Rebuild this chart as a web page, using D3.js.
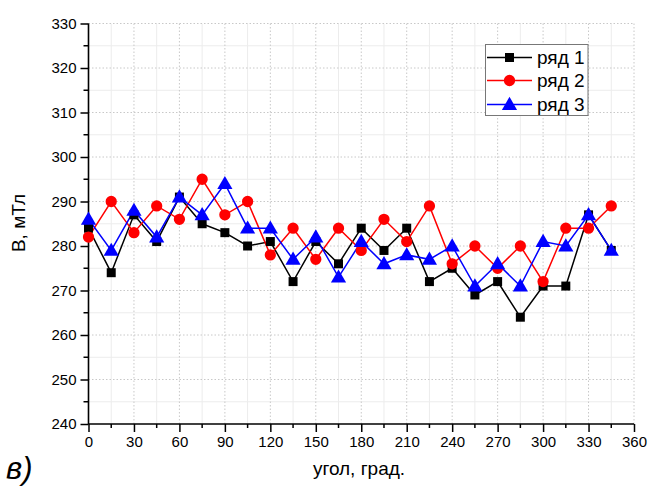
<!DOCTYPE html>
<html><head><meta charset="utf-8">
<script src="https://cdn.jsdelivr.net/npm/d3@7"></script>
<style>body{margin:0;background:#fff}svg{display:block}</style>
</head><body>
<svg id="c" width="649" height="488"></svg>
<script>
const angles = [0,15,30,45,60,75,90,105,120,135,150,165,180,195,210,225,240,255,270,285,300,315,330,345];
const series1 = [284,274,287,281,291,285,283,280,281,272,281,276,284,279,284,272,275,269,272,264,271,271,287,279];
const series2 = [282,290,283,289,286,295,287,290,278,284,277,284,279,286,281,289,276,280,275,280,272,284,284,289];
const series3 = [286,279,288,282,291,287,294,284,284,277,282,273,281,276,278,277,280,271,276,271,281,280,287,279];
const seriesNames = ["ряд 1","ряд 2","ряд 3"];
const seriesColors = ["#000000","#ff0000","#0000ff"];
const seriesSymbols = [d3.symbolSquare, d3.symbolCircle, d3.symbolTriangle];
const xTicks = d3.range(0, 361, 30);
const yTicks = d3.range(240, 331, 10);

const svg = d3.select("#c");
const font = "'Liberation Sans', Arial, sans-serif";
const x = d3.scaleLinear().domain([0,360]).range([88.5,634]);
const y = d3.scaleLinear().domain([240,330]).range([424,23.5]);

// minor grid
const g = svg.append("g");
g.selectAll(".mx").data(d3.range(15,360,30)).enter().append("line")
  .attr("x1",d=>x(d)).attr("x2",d=>x(d)).attr("y1",y(240)).attr("y2",y(330))
  .attr("stroke","#ececec").attr("stroke-width",1);
g.selectAll(".my").data(d3.range(245,330,10)).enter().append("line")
  .attr("y1",d=>y(d)).attr("y2",d=>y(d)).attr("x1",x(0)).attr("x2",x(360))
  .attr("stroke","#ececec").attr("stroke-width",1);
// major grid
g.selectAll(".Mx").data(xTicks.slice(1)).enter().append("line")
  .attr("x1",d=>x(d)).attr("x2",d=>x(d)).attr("y1",y(240)).attr("y2",y(330))
  .attr("stroke","#c8c8c8").attr("stroke-width",1).attr("stroke-dasharray","1.5,2");
g.selectAll(".My").data(yTicks.slice(1)).enter().append("line")
  .attr("y1",d=>y(d)).attr("y2",d=>y(d)).attr("x1",x(0)).attr("x2",x(360))
  .attr("stroke","#c8c8c8").attr("stroke-width",1).attr("stroke-dasharray","1.5,2");

// axes
const xAxis = d3.axisBottom(x).tickValues(xTicks).tickSize(8).tickPadding(4).tickFormat(d3.format("d"));
const yAxis = d3.axisLeft(y).tickValues(yTicks).tickSize(8).tickPadding(4).tickFormat(d3.format("d"));
const xa = svg.append("g").attr("transform",`translate(0,${y(240)})`).call(xAxis);
const ya = svg.append("g").attr("transform",`translate(${x(0)},0)`).call(yAxis);
[xa,ya].forEach(a=>{
  a.select(".domain").attr("stroke","#000").attr("stroke-width",1.6);
  a.selectAll(".tick line").attr("stroke","#000").attr("stroke-width",1.5);
  a.selectAll("text").attr("font-family",font).attr("font-size",15).attr("fill","#000");
});
xa.select(".domain").attr("d",`M${x(0)},0H${x(360)}`);
ya.select(".domain").attr("d",`M0,${y(240)}V${y(330)}`);
// minor ticks
xa.selectAll(".mt").data(d3.range(15,360,30)).enter().append("line")
  .attr("x1",d=>x(d)).attr("x2",d=>x(d)).attr("y1",0).attr("y2",4)
  .attr("stroke","#000").attr("stroke-width",1.5);
ya.selectAll(".mt").data(d3.range(245,330,10)).enter().append("line")
  .attr("y1",d=>y(d)).attr("y2",d=>y(d)).attr("x1",0).attr("x2",-5)
  .attr("stroke","#000").attr("stroke-width",1.5);

// series
const all = [series1, series2, series3];
const symSize = [81, 100, 100];
all.forEach((vals,i)=>{
  const pts = angles.map((a,j)=>[a, vals[j]]);
  svg.append("path").datum(pts)
    .attr("d", d3.line().x(d=>x(d[0])).y(d=>y(d[1])))
    .attr("fill","none").attr("stroke",seriesColors[i]).attr("stroke-width",1.5);
});
all.forEach((vals,i)=>{
  const pts = angles.map((a,j)=>[a, vals[j]]);
  svg.append("g").selectAll("path").data(pts).enter().append("path")
    .attr("d", d3.symbol().type(seriesSymbols[i]).size(symSize[i]))
    .attr("transform", d=>`translate(${x(d[0])},${y(d[1]) + (i===2?1:0)})`)
    .attr("fill",seriesColors[i]);
});

// legend
const lg = svg.append("g");
lg.append("rect").attr("x",485.5).attr("y",44.5).attr("width",102.5).attr("height",71)
  .attr("fill","#fff").attr("stroke","#777").attr("stroke-width",1);
const ly = [57.5, 80.5, 104.5];
seriesNames.forEach((n,i)=>{
  lg.append("line").attr("x1",487).attr("x2",532).attr("y1",ly[i]).attr("y2",ly[i])
    .attr("stroke",seriesColors[i]).attr("stroke-width",1.5);
  lg.append("path").attr("d", d3.symbol().type(seriesSymbols[i]).size(symSize[i]))
    .attr("transform",`translate(509.5,${ly[i] + (i===2?1:0)})`).attr("fill",seriesColors[i]);
  lg.append("text").attr("x",537).attr("y",ly[i]+6.5).text(n)
    .attr("font-family",font).attr("font-size",19).attr("fill","#000");
});

// titles
svg.append("text").attr("transform","translate(25,223) rotate(-90)").attr("text-anchor","middle")
  .attr("font-family",font).attr("font-size",19).text("В, мТл");
svg.append("text").attr("x",359).attr("y",475).attr("text-anchor","middle")
  .attr("font-family",font).attr("font-size",19).text("угол, град.");
svg.append("text").attr("x",6).attr("y",479).attr("font-family",font).attr("font-style","italic")
  .attr("font-size",31).text("в)");
</script>
</body></html>
